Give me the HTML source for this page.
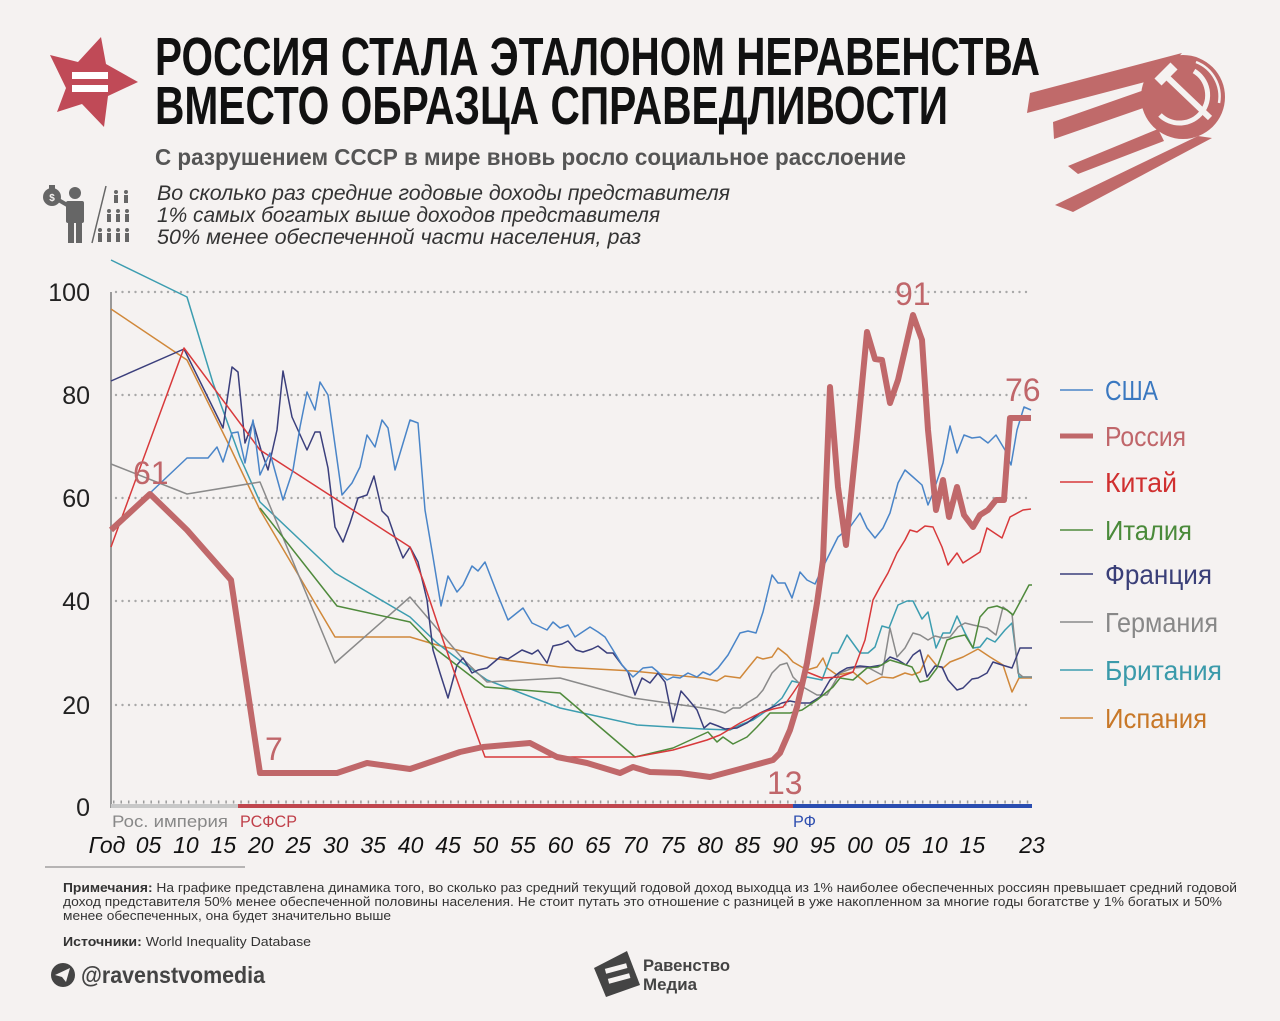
<!DOCTYPE html>
<html><head><meta charset="utf-8"><style>
html,body{margin:0;padding:0;background:#f5f2f1;}
svg{display:block;}
text{font-family:"Liberation Sans","DejaVu Sans",sans-serif;}
.cond{font-family:"Liberation Sans Narrow","Liberation Sans",sans-serif;}
</style></head><body>
<svg width="1280" height="1021" viewBox="0 0 1280 1021" xmlns="http://www.w3.org/2000/svg">
<rect width="1280" height="1021" fill="#f5f2f1"/>

<!-- star icon -->
<polygon points="101,37 106,64 138,82 108,96 104,127 82,104 57,112 66,88 50,55 78,62" fill="#c04a57"/>
<rect x="72" y="72" width="36" height="7" fill="#fff"/>
<rect x="72" y="85" width="36" height="7" fill="#fff"/>

<!-- title -->
<text class="cond" x="155" y="75" font-size="54" font-weight="bold" fill="#111" textLength="885" lengthAdjust="spacingAndGlyphs">РОССИЯ СТАЛА ЭТАЛОНОМ НЕРАВЕНСТВА</text>
<text class="cond" x="155" y="124" font-size="54" font-weight="bold" fill="#111" textLength="793" lengthAdjust="spacingAndGlyphs">ВМЕСТО ОБРАЗЦА СПРАВЕДЛИВОСТИ</text>
<text class="cond" x="155" y="165" font-size="23" font-weight="bold" fill="#555" textLength="751" lengthAdjust="spacingAndGlyphs">С разрушением СССР в мире вновь росло социальное расслоение</text>
<text class="cond" x="157" y="200" font-size="21" font-style="italic" fill="#333" textLength="573" lengthAdjust="spacingAndGlyphs">Во сколько раз средние годовые доходы представителя</text>
<text class="cond" x="157" y="222" font-size="21" font-style="italic" fill="#333" textLength="503" lengthAdjust="spacingAndGlyphs">1% самых богатых выше доходов представителя</text>
<text class="cond" x="157" y="244" font-size="21" font-style="italic" fill="#333" textLength="484" lengthAdjust="spacingAndGlyphs">50% менее обеспеченной части населения, раз</text>

<!-- person icon -->
<g fill="#666">
<circle cx="52" cy="197" r="9"/>
<rect x="49" y="185" width="6" height="5"/>
<circle cx="75" cy="193" r="6"/>
<rect x="66" y="201" width="18" height="22" rx="2"/>
<rect x="68" y="222" width="6" height="21"/>
<rect x="76" y="222" width="6" height="21"/>
<rect x="58" y="200" width="10" height="4" transform="rotate(30 62 202)"/>
<line x1="106" y1="186" x2="92" y2="243" stroke="#666" stroke-width="1.5"/>
<g>
<circle cx="116" cy="192" r="2"/><rect x="114" y="195" width="4" height="8"/>
<circle cx="126" cy="192" r="2"/><rect x="124" y="195" width="4" height="8"/>
<circle cx="109" cy="211" r="2"/><rect x="107" y="214" width="4" height="8"/>
<circle cx="118" cy="211" r="2"/><rect x="116" y="214" width="4" height="8"/>
<circle cx="127" cy="211" r="2"/><rect x="125" y="214" width="4" height="8"/>
<circle cx="100" cy="230" r="2"/><rect x="98" y="233" width="4" height="9"/>
<circle cx="109" cy="230" r="2"/><rect x="107" y="233" width="4" height="9"/>
<circle cx="118" cy="230" r="2"/><rect x="116" y="233" width="4" height="9"/>
<circle cx="127" cy="230" r="2"/><rect x="125" y="233" width="4" height="9"/>
</g>
</g>
<text x="52" y="201" font-size="10" font-weight="bold" fill="#f5f2f1" text-anchor="middle">$</text>

<!-- sputnik -->
<g fill="#c06a6a">
<polygon points="1030,93 1182,53 1160,78 1027,113"/>
<polygon points="1053,122 1150,88 1155,104 1054,139"/>
<polygon points="1068,166 1158,129 1164,141 1078,174"/>
<polygon points="1055,205 1198,136 1212,138 1073,212"/>
<circle cx="1183" cy="97" r="42"/>
</g>
<path d="M1196,62 A37,37 0 0 1 1219,103" fill="none" stroke="#f5f2f1" stroke-width="2.5"/>
<path d="M1160,115 A28,28 0 1 0 1194,71" fill="none" stroke="#f5f2f1" stroke-width="5"/>
<line x1="1167" y1="77" x2="1210" y2="118" stroke="#f5f2f1" stroke-width="6"/>
<line x1="1158" y1="82" x2="1174" y2="66" stroke="#f5f2f1" stroke-width="10"/>

<!-- grid -->
<g stroke="#a8a8a8" stroke-width="2.4" stroke-linecap="round" stroke-dasharray="0 6.5">
<line x1="116" y1="292" x2="1028" y2="292"/>
<line x1="116" y1="395" x2="1028" y2="395"/>
<line x1="116" y1="498" x2="1028" y2="498"/>
<line x1="116" y1="601" x2="1028" y2="601"/>
<line x1="116" y1="705" x2="1028" y2="705"/>
</g>
<line x1="111" y1="292" x2="111" y2="808" stroke="#999" stroke-width="2"/>
<line x1="113" y1="802" x2="1032" y2="802" stroke="#9a9a9a" stroke-width="3" stroke-dasharray="1.5 5.99"/>
<line x1="111" y1="806" x2="238" y2="806" stroke="#c8c8c8" stroke-width="4"/>
<line x1="238" y1="806" x2="793" y2="806" stroke="#c0474f" stroke-width="4"/>
<line x1="793" y1="806" x2="1032" y2="806" stroke="#2a4db0" stroke-width="4"/>

<!-- y labels -->
<g font-size="25" fill="#222" text-anchor="end">
<text x="90" y="301">100</text>
<text x="90" y="404">80</text>
<text x="90" y="507">60</text>
<text x="90" y="610">40</text>
<text x="90" y="714">20</text>
<text x="90" y="816">0</text>
</g>

<!-- period labels -->
<text x="112" y="827" font-size="17" fill="#888" textLength="116" lengthAdjust="spacingAndGlyphs">Рос. империя</text>
<text x="240" y="827" font-size="17" fill="#c0404a" textLength="57" lengthAdjust="spacingAndGlyphs">РСФСР</text>
<text x="793" y="827" font-size="17" fill="#3050b0" textLength="23" lengthAdjust="spacingAndGlyphs">РФ</text>

<!-- x labels -->
<g font-size="23" font-style="italic" fill="#111" text-anchor="middle">
<text x="107" y="853">Год</text>
<text x="148.5" y="853">05</text>
<text x="185.9" y="853">10</text>
<text x="223.4" y="853">15</text>
<text x="260.8" y="853">20</text>
<text x="298.3" y="853">25</text>
<text x="335.7" y="853">30</text>
<text x="373.2" y="853">35</text>
<text x="410.6" y="853">40</text>
<text x="448.1" y="853">45</text>
<text x="485.5" y="853">50</text>
<text x="523" y="853">55</text>
<text x="560.4" y="853">60</text>
<text x="597.9" y="853">65</text>
<text x="635.3" y="853">70</text>
<text x="672.8" y="853">75</text>
<text x="710.2" y="853">80</text>
<text x="747.7" y="853">85</text>
<text x="785.1" y="853">90</text>
<text x="822.6" y="853">95</text>
<text x="860" y="853">00</text>
<text x="897.5" y="853">05</text>
<text x="934.9" y="853">10</text>
<text x="972.4" y="853">15</text>
<text x="1032" y="853">23</text>
</g>

<!-- series -->
<g fill="none" stroke-width="1.5" stroke-linejoin="round">
<polyline stroke="#d0883a" points="111,309 187,360 230,447 260,510 335,637 410,637 437,645 490,658 560,667 633,671 703,678 717,681 725,676 740,678 748,668 757,657 763,659 772,657 778,648 787,655 793,662 807,670 817,667 823,658 827,668 837,675 853,672 867,684 882,677 893,678 905,673 912,675 920,672 928,655 937,666 943,668 950,662 963,657 978,649 990,657 1003,665 1012,692 1019,678 1032,678"/>
<polyline stroke="#3c9db0" points="111,260 187,297 213,383 240,457 260,502 335,573 410,617 437,643 463,663 487,680 560,708 637,725 703,729 730,730 740,725 753,720 772,707 782,698 792,681 800,683 807,677 822,680 832,653 838,653 847,635 860,653 868,653 875,647 882,626 889,628 898,605 907,601 913,601 922,619 928,612 936,648 943,633 950,633 957,616 965,633 973,648 980,647 987,638 995,642 1005,630 1012,623 1019,677 1032,677"/>
<polyline stroke="#8a8a8a" points="111,464 187,494 260,482 335,663 410,597 463,659 487,682 560,678 633,698 703,708 715,710 725,713 733,708 740,708 747,703 757,697 763,690 772,673 780,665 787,663 793,677 803,687 817,695 827,695 840,673 853,668 867,667 882,675 890,628 897,657 905,648 913,633 920,635 928,640 935,636 943,638 950,637 958,627 965,623 973,625 987,628 996,635 1003,607 1012,614 1018,673 1023,677 1032,677"/>
<polyline stroke="#3b3f7c" points="111,381 184,349 223,428 232,367 238,372 245,443 253,422 261,450 268,470 277,430 283,371 292,417 307,450 315,432 320,432 328,468 335,527 343,542 350,523 358,498 367,495 374,476 382,511 388,517 396,540 403,558 410,547 418,562 427,600 433,650 440,673 448,698 457,665 463,658 472,673 478,670 487,668 500,657 508,659 522,650 532,654 538,650 547,663 553,646 562,644 568,641 576,650 583,652 592,649 598,646 607,653 613,653 622,665 628,672 635,695 642,678 650,683 658,673 665,682 673,722 681,691 688,699 697,710 704,728 710,723 718,726 725,729 737,728 747,723 760,713 773,707 782,703 790,701 800,703 810,703 820,697 830,680 840,672 847,668 860,666 870,667 882,665 890,657 898,660 906,665 913,655 920,650 927,677 935,666 942,667 948,680 957,690 963,688 972,679 978,678 987,673 993,662 1002,665 1012,668 1020,648 1032,648"/>
<polyline stroke="#4f8a3c" points="260,508 337,606 410,622 437,650 463,670 485,687 560,693 635,757 673,748 708,732 717,742 723,737 733,744 747,737 757,727 770,713 790,713 802,710 817,700 833,687 840,678 853,680 867,668 878,667 890,660 900,663 912,667 920,682 928,680 937,668 947,640 955,637 965,635 973,648 980,617 988,608 997,606 1007,610 1013,615 1020,602 1029,585 1032,585"/>
<polyline stroke="#d8393b" points="111,547 184,348 260,450 410,547 423,580 443,640 463,697 485,757 635,757 673,750 707,740 720,735 730,729 740,723 760,713 773,709 783,707 793,693 807,672 822,678 840,677 853,672 865,640 873,600 880,587 888,573 897,553 905,540 910,530 917,532 925,526 933,527 942,547 948,565 957,553 963,563 980,552 987,528 1002,538 1010,517 1023,510 1031,509"/>
<polyline stroke="#4a85c8" points="150,493 187,458 208,458 217,447 223,462 232,433 238,432 245,463 253,420 260,475 270,453 283,500 293,470 300,427 307,392 315,410 320,382 328,395 342,495 352,483 360,467 367,435 375,447 382,420 388,428 395,470 410,420 418,423 425,510 433,557 441,606 448,576 457,592 463,585 472,566 478,571 485,562 497,593 508,620 523,608 532,623 547,630 553,622 560,628 568,625 575,637 590,627 598,632 605,637 613,650 622,665 633,677 643,668 652,667 658,672 667,680 673,677 680,678 688,673 697,677 703,672 710,675 718,668 728,655 740,633 748,631 756,633 763,612 772,575 778,583 785,583 792,598 800,572 807,580 815,584 823,567 838,537 850,527 860,513 867,528 875,538 883,528 890,513 898,483 905,470 913,477 922,485 928,505 933,493 943,463 950,426 957,453 964,435 972,438 980,437 988,443 996,435 1005,450 1011,465 1017,430 1024,407 1031,410"/>
<polyline stroke="#c0686a" stroke-width="6" points="111,530 150,494 187,530 231,580 260,773 337,773 367,763 410,769 460,752 483,747 530,743 557,757 587,763 620,773 633,767 650,772 680,773 710,777 740,769 773,760 780,753 790,730 797,707 807,663 817,603 823,560 830,387 838,487 846,545 857,437 867,332 875,359 882,360 890,403 898,380 913,315 922,340 928,430 936,510 943,480 949,517 957,487 964,515 973,527 980,515 988,510 996,500 1004,500 1010,418 1031,418"/>
</g>

<!-- data labels -->
<g font-size="32" fill="#c0666a">
<text x="133" y="484">61</text>
<text x="265" y="760">7</text>
<text x="767" y="794">13</text>
<text x="895" y="305">91</text>
<text x="1005" y="401">76</text>
</g>

<!-- legend -->
<g stroke-width="1.5">
<line x1="1060" y1="390" x2="1093" y2="390" stroke="#4a85c8"/>
<line x1="1060" y1="436" x2="1093" y2="436" stroke="#c0686a" stroke-width="5"/>
<line x1="1060" y1="482" x2="1093" y2="482" stroke="#d8393b"/>
<line x1="1060" y1="530" x2="1093" y2="530" stroke="#4f8a3c"/>
<line x1="1060" y1="574" x2="1093" y2="574" stroke="#3b3f7c"/>
<line x1="1060" y1="622" x2="1093" y2="622" stroke="#8a8a8a"/>
<line x1="1060" y1="670" x2="1093" y2="670" stroke="#3c9db0"/>
<line x1="1060" y1="718" x2="1093" y2="718" stroke="#d0883a"/>
</g>
<g font-size="28">
<text x="1105" y="400" fill="#3a78c0" textLength="53" lengthAdjust="spacingAndGlyphs">США</text>
<text x="1105" y="446" fill="#c0666a" textLength="81" lengthAdjust="spacingAndGlyphs">Россия</text>
<text x="1105" y="492" fill="#d03030" textLength="72" lengthAdjust="spacingAndGlyphs">Китай</text>
<text x="1105" y="540" fill="#4a8a3a" textLength="87" lengthAdjust="spacingAndGlyphs">Италия</text>
<text x="1105" y="584" fill="#3a3f78" textLength="107" lengthAdjust="spacingAndGlyphs">Франция</text>
<text x="1105" y="632" fill="#888" textLength="113" lengthAdjust="spacingAndGlyphs">Германия</text>
<text x="1105" y="680" fill="#3a9aaa" textLength="117" lengthAdjust="spacingAndGlyphs">Британия</text>
<text x="1105" y="728" fill="#c87828" textLength="102" lengthAdjust="spacingAndGlyphs">Испания</text>
</g>

<!-- footer -->
<line x1="45" y1="867" x2="245" y2="867" stroke="#777" stroke-width="1"/>
<g class="cond" font-size="13" fill="#333">
<text class="cond" x="63" y="892" textLength="1174" lengthAdjust="spacingAndGlyphs"><tspan font-weight="bold">Примечания:</tspan> На графике представлена динамика того, во сколько раз средний текущий годовой доход выходца из 1% наиболее обеспеченных россиян превышает средний годовой</text>
<text class="cond" x="63" y="906" textLength="1159" lengthAdjust="spacingAndGlyphs">доход представителя 50% менее обеспеченной половины населения. Не стоит путать это отношение с разницей в уже накопленном за многие годы богатстве у 1% богатых и 50%</text>
<text class="cond" x="63" y="920" textLength="328" lengthAdjust="spacingAndGlyphs">менее обеспеченных, она будет значительно выше</text>
<text class="cond" x="63" y="946" textLength="248" lengthAdjust="spacingAndGlyphs"><tspan font-weight="bold">Источники:</tspan> World Inequality Database</text>
</g>

<circle cx="63" cy="975" r="12" fill="#444"/>
<polygon points="55,975 70,968 66,982 62,977" fill="#f5f2f1"/>
<text class="cond" x="81" y="983" font-size="23" font-weight="bold" fill="#444" textLength="184" lengthAdjust="spacingAndGlyphs">@ravenstvomedia</text>

<polygon points="594,968 627,951 640,985 606,997" fill="#444"/>
<rect x="605" y="966" width="22" height="5" fill="#f5f2f1" transform="rotate(-15 616 968)"/>
<rect x="608" y="976" width="22" height="5" fill="#f5f2f1" transform="rotate(-15 619 978)"/>
<text class="cond" x="643" y="971" font-size="17" font-weight="bold" fill="#444" textLength="87" lengthAdjust="spacingAndGlyphs">Равенство</text>
<text class="cond" x="643" y="990" font-size="17" font-weight="bold" fill="#444" textLength="54" lengthAdjust="spacingAndGlyphs">Медиа</text>
</svg>
</body></html>
